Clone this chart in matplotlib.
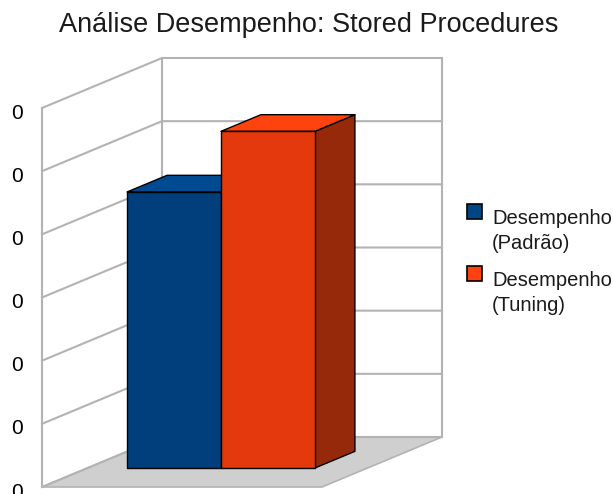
import numpy as np
import matplotlib
matplotlib.use("Agg")
import matplotlib.pyplot as plt
from matplotlib.patches import Polygon, Rectangle
from matplotlib.transforms import ScaledTranslation

plt.rcParams["font.family"] = ["Liberation Sans", "DejaVu Sans"]

TITLE = "Análise Desempenho: Stored Procedures"
series_names = ["Desempenho\n(Padrão)", "Desempenho\n(Tuning)"]
values = [4.37, 5.33]
y_ticks = [0, 1, 2, 3, 4, 5, 6]
y_tick_labels = ["0", "0", "0", "0", "0", "0", "0"]

# face colours per series: front, top, side
colors = {
    "front": ["#003f7c", "#e3390c"],
    "top": ["#004a91", "#ff430f"],
    "side": ["#002a55", "#962909"],
}
legend_colors = ["#004586", "#ff420e"]
wall_line = "#b3b3b3"
floor_color = "#cfcfcf"

# oblique projection of the depth axis (in data units)
DX = 120 / 280
DY = 50 / 379 * 6


def proj(x, y, d):
    return (x + d * DX, y + d * DY)


def face(ax, pts, fc, ec, lw, z):
    poly = Polygon([proj(*p) for p in pts], closed=True, facecolor=fc,
                   edgecolor=ec, linewidth=lw, zorder=z, clip_on=False,
                   joinstyle="round")
    ax.add_patch(poly)
    return poly


W, H = 613, 494
fig = plt.figure(figsize=(W / 100, H / 100), dpi=100)
ax = fig.add_axes([42 / W, (H - 487) / H, 280 / W, 379 / H])
ax.set_xlim(0, 1)
ax.set_ylim(0, 6)
for s in ax.spines.values():
    s.set_visible(False)
ax.set_xticks([])

ymax = y_ticks[-1]
# walls
face(ax, [(0, 0, 0), (0, 0, 1), (0, ymax, 1), (0, ymax, 0)], "white", "none", 0, 1)
face(ax, [(0, 0, 1), (1, 0, 1), (1, ymax, 1), (0, ymax, 1)], "white", "none", 0, 1)
# floor
face(ax, [(0, 0, 0), (1, 0, 0), (1, 0, 1), (0, 0, 1)], floor_color, wall_line, 1.2, 2)

for t in y_ticks:
    xs, ys = zip(*[proj(0, t, 0), proj(0, t, 1), proj(1, t, 1)])
    ax.plot(xs, ys, color=wall_line, lw=1.5, zorder=3, clip_on=False)
for x0, d0 in [(0, 0), (0, 1), (1, 1)]:
    xs, ys = zip(*[proj(x0, 0, d0), proj(x0, ymax, d0)])
    ax.plot(xs, ys, color=wall_line, lw=1.5, zorder=3, clip_on=False)

# bars
bar_w = 0.3355
bar_left = 0.141
d0, d1 = 0.38, 0.713
for i, v in enumerate(values):
    x0 = bar_left + i * bar_w
    x1 = x0 + bar_w
    z = 5 + i
    face(ax, [(x1, 0, d0), (x1, 0, d1), (x1, v, d1), (x1, v, d0)],
         colors["side"][i], "black", 1.0, z)
    face(ax, [(x0, v, d0), (x1, v, d0), (x1, v, d1), (x0, v, d1)],
         colors["top"][i], "black", 1.0, z)
    face(ax, [(x0, 0, d0), (x1, 0, d0), (x1, v, d0), (x0, v, d0)],
         colors["front"][i], "black", 1.0, z)

ax.set_yticks(y_ticks)
ax.set_yticklabels(y_tick_labels, fontsize=15)
ax.tick_params(axis="y", length=0, pad=14)
for lab in ax.get_yticklabels():
    lab.set_transform(lab.get_transform() + ScaledTranslation(0, -3 / 100, fig.dpi_scale_trans))

fig.text(309 / W, 1 - 25 / H, TITLE, ha="center", va="center", fontsize=19.5,
         color="#1a1a1a")

# legend: square next to the first line of each two-line label
for i, name in enumerate(series_names):
    top = 204 + i * 62
    fig.patches.append(Rectangle((467 / W, 1 - (top + 15) / H), 15 / W, 15 / H,
                                 transform=fig.transFigure, facecolor=legend_colors[i],
                                 edgecolor="black", linewidth=1.2))
    fig.text(492 / W, 1 - (top + 5) / H, name, ha="left", va="top",
             fontsize=14.5, linespacing=1.42, color="#1a1a1a")

fig.savefig("out.png", dpi=100)
